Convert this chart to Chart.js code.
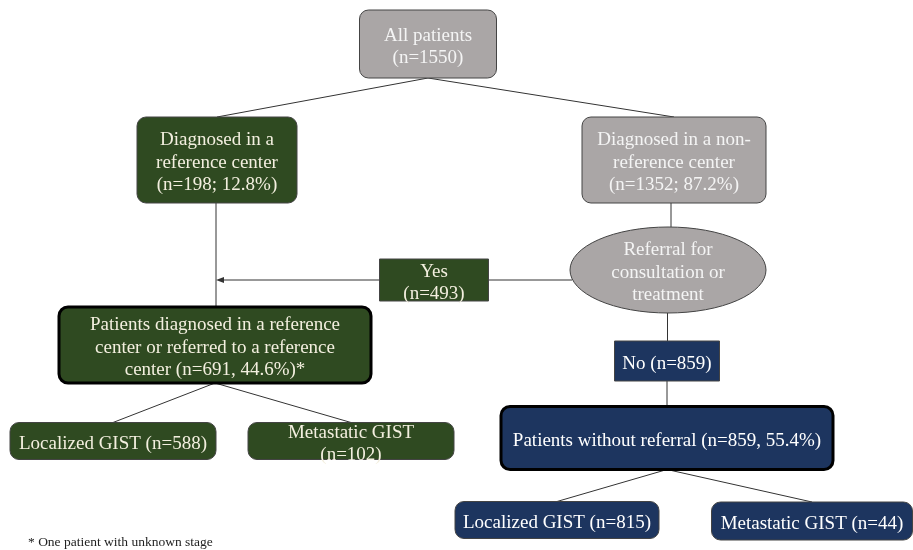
<!DOCTYPE html>
<html>
<head>
<meta charset="utf-8">
<script src="https://cdn.jsdelivr.net/npm/chart.js@4/dist/chart.umd.min.js"></script>
<style>
  html, body { margin: 0; padding: 0; background: #fff; }
  #wrap { width: 913px; height: 550px; position: relative; }
</style>
</head>
<body>
<div id="wrap"><canvas id="flow"></canvas></div>
<script>
// nodes of the flow chart
const nodeText = [
  ["All patients", "(n=1550)"],
  ["Diagnosed in a", "reference center", "(n=198; 12.8%)"],
  ["Diagnosed in a non-", "reference center", "(n=1352; 87.2%)"],
  ["Referral for", "consultation or", "treatment"],
  ["Yes", "(n=493)"],
  ["Patients diagnosed in a reference", "center or referred to a reference", "center (n=691, 44.6%)*"],
  ["No (n=859)"],
  ["Patients without referral (n=859, 55.4%)"],
  ["Localized GIST (n=588)"],
  ["Metastatic GIST", "(n=102)"],
  ["Localized GIST (n=815)"],
  ["Metastatic GIST (n=44)"]
];
// node centres (chart units)
const nodeX = [428, 217, 674, 668, 434, 215, 667, 667, 113, 351, 557, 812];
const nodeY = [44, 160, 160, 270, 280, 345, 361, 438, 441, 441, 520, 521];
// links parent -> child
const linkFrom = [0, 0, 1, 2, 3, 6, 5, 5, 7, 7];
const linkTo   = [1, 2, 5, 3, 6, 7, 8, 9, 10, 11];
const footnote = "* One patient with unknown stage";

// look of each node
const boxW = [137, 160, 184, 196, 109, 312, 105, 332, 206, 206, 204, 201];
const boxH = [68, 86, 86, 86, 42, 76, 40, 63, 37, 37, 37, 38];
const kind = ["gray", "green", "gray", "ellipse", "greenSq", "greenBig", "navySq", "navyBig", "green", "green", "navy", "navy"];

const FILL = { gray: "#aaa6a6", ellipse: "#aaa6a6", green: "#2f4a21", greenSq: "#2f4a21", greenBig: "#2f4a21",
  navy: "#1d355f", navySq: "#1d355f", navyBig: "#1d355f" };
const INK = { gray: "#f4f4f4", ellipse: "#f4f4f4", green: "#f3efdf", greenSq: "#f3efdf", greenBig: "#f3efdf",
  navy: "#ffffff", navySq: "#ffffff", navyBig: "#ffffff" };

function roundRect(ctx, x, y, w, h, r) {
  ctx.beginPath();
  ctx.moveTo(x + r, y);
  ctx.arcTo(x + w, y, x + w, y + h, r);
  ctx.arcTo(x + w, y + h, x, y + h, r);
  ctx.arcTo(x, y + h, x, y, r);
  ctx.arcTo(x, y, x + w, y, r);
  ctx.closePath();
}

const flowPlugin = {
  id: "flow",
  afterDatasetsDraw(chart) {
    const ctx = chart.ctx;
    const xs = chart.scales.x, ys = chart.scales.y;
    const px = v => xs.getPixelForValue(v);
    const py = v => ys.getPixelForValue(v);
    const sx = v => px(v) - px(0);
    const sy = v => Math.abs(py(v) - py(0));

    ctx.save();
    ctx.strokeStyle = "#333";
    ctx.lineWidth = 1;
    // links: bottom centre of parent to top centre of child
    for (let i = 0; i < linkFrom.length; i++) {
      const a = linkFrom[i], b = linkTo[i];
      let x0 = px(nodeX[a]), x1 = px(nodeX[b]);
      if (Math.abs(x0 - x1) < 10) { x0 = x1 = (x0 + x1) / 2; }  // straight drop
      ctx.beginPath();
      ctx.moveTo(x0, py(nodeY[a]) + sy(boxH[a] / 2));
      ctx.lineTo(x1, py(nodeY[b]) - sy(boxH[b] / 2));
      ctx.stroke();
    }
    // yes branch: ellipse -> yes box -> arrow onto left trunk
    const yesY = py(nodeY[4]);
    ctx.beginPath();
    ctx.moveTo(px(nodeX[3]) - sx(boxW[3] / 2) + 2, yesY);
    ctx.lineTo(px(nodeX[4]) + sx(boxW[4] / 2), yesY);
    ctx.stroke();
    const tipX = px((nodeX[1] + nodeX[5]) / 2);
    ctx.beginPath();
    ctx.moveTo(px(nodeX[4]) - sx(boxW[4] / 2), yesY);
    ctx.lineTo(tipX + 6, yesY);
    ctx.stroke();
    ctx.fillStyle = "#333";
    ctx.beginPath();
    ctx.moveTo(tipX, yesY);
    ctx.lineTo(tipX + 8, yesY - 3);
    ctx.lineTo(tipX + 8, yesY + 3);
    ctx.closePath();
    ctx.fill();

    // boxes
    for (let i = 0; i < nodeText.length; i++) {
      const k = kind[i];
      const w = sx(boxW[i]), h = sy(boxH[i]);
      const cx = px(nodeX[i]), cy = py(nodeY[i]);
      const x = cx - w / 2, y = cy - h / 2;
      ctx.fillStyle = FILL[k];
      if (k === "ellipse") {
        ctx.beginPath();
        ctx.ellipse(cx, cy, w / 2, h / 2, 0, 0, Math.PI * 2);
      } else if (k === "greenSq" || k === "navySq") {
        ctx.beginPath();
        ctx.rect(x, y, w, h);
      } else {
        roundRect(ctx, x, y, w, h, 9);
      }
      ctx.fill();
      ctx.strokeStyle = k.endsWith("Big") ? "#000" : "#444";
      ctx.lineWidth = k.endsWith("Big") ? 3 : 1;
      ctx.stroke();

      // text
      const lines = nodeText[i];
      const lh = 22.5;
      ctx.fillStyle = INK[k];
      ctx.font = "19px 'Liberation Serif', 'Times New Roman', serif";
      ctx.textAlign = "center";
      ctx.textBaseline = "middle";
      let ty = cy - (lines.length - 1) * lh / 2 + 3;
      if (i === 9) ty = cy - 8;
      lines.forEach((t, j) => ctx.fillText(t, cx, ty + j * lh));
    }

    // footnote
    ctx.fillStyle = "#222";
    ctx.font = "13.5px 'Liberation Serif', 'Times New Roman', serif";
    ctx.textAlign = "left";
    ctx.textBaseline = "middle";
    ctx.fillText(footnote, px(28), py(542));
    ctx.restore();
  }
};

const chart = new Chart(document.getElementById("flow"), {
  type: "scatter",
  data: {
    datasets: [{
      data: nodeX.map((x, i) => ({ x: x, y: nodeY[i] })),
      pointRadius: 0,
      pointHoverRadius: 0
    }]
  },
  options: {
    responsive: true,
    maintainAspectRatio: false,
    animation: false,
    layout: { padding: 0 },
    plugins: { legend: { display: false }, tooltip: { enabled: false } },
    scales: {
      x: { type: "linear", min: 0, max: 913, display: false },
      y: { type: "linear", min: 0, max: 550, reverse: true, display: false }
    }
  },
  plugins: [flowPlugin]
});
</script>
</body>
</html>
